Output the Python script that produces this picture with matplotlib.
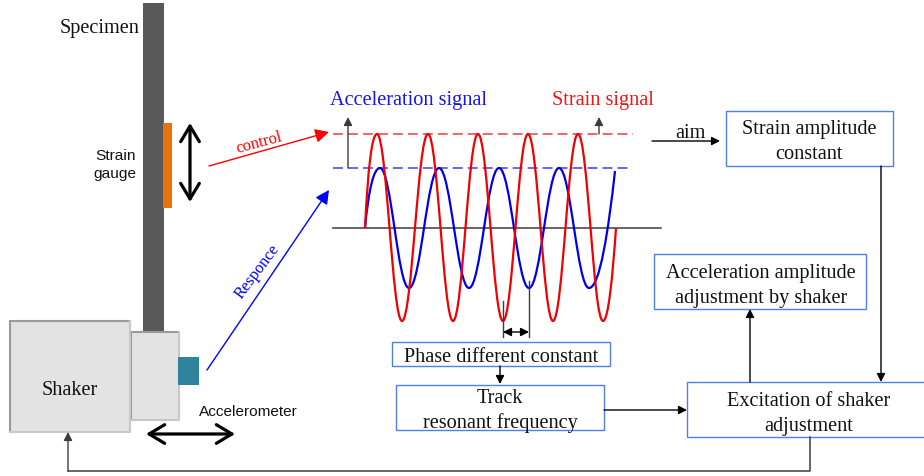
import matplotlib
matplotlib.use("Agg")
import matplotlib.pyplot as plt
from matplotlib.patches import Rectangle, PathPatch
from matplotlib.path import Path

# picture coordinates (pixels, y downwards)
zero_y = 229
strain_peak_y = 135
strain_trough_y = 322
accel_peak_y = 169
accel_trough_y = 289

strain_peaks = [377, 428, 478, 528, 578]
strain_troughs = [402, 453, 503, 553, 603]
strain_start = (365, 229)
strain_end = (616, 229)

accel_peaks = [380, 439, 499, 559]
accel_troughs = [409, 469, 529, 589]
accel_start = (365, 229)
accel_end = (615, 172)

BOX = "#4F7FEA"
DARK = "#3c3c3c"
SERIF = "Liberation Serif"
SANS = "Liberation Sans"
FS = 14.6


def wave_patch(start, end, peaks, troughs, peak_y, trough_y, color):
    ext = sorted([(x, peak_y) for x in peaks] + [(x, trough_y) for x in troughs])
    verts = [start]
    x0, y0 = ext[0]
    verts += [(start[0] + 0.25 * (x0 - start[0]), start[1] + 0.65 * (y0 - start[1])),
              (start[0] + 0.58 * (x0 - start[0]), y0), (x0, y0)]
    for (xa, ya), (xb, yb) in zip(ext[:-1], ext[1:]):
        d = xb - xa
        verts += [(xa + 0.39 * d, ya), (xb - 0.39 * d, yb), (xb, yb)]
    xa, ya = ext[-1]
    verts += [(xa + 0.42 * (end[0] - xa), ya),
              (xa + 0.75 * (end[0] - xa), ya + 0.50 * (end[1] - ya)), end]
    codes = [Path.MOVETO] + [Path.CURVE4] * (len(verts) - 1)
    return PathPatch(Path(verts, codes), fc="none", ec=color, lw=1.6, zorder=4)


def arrow(ax, a, b, color="black", lw=1.0, ms=9):
    ax.annotate("", xy=b, xytext=a, zorder=5,
                arrowprops=dict(arrowstyle="-|>,head_length=0.55,head_width=0.28", color=color, lw=lw,
                                shrinkA=0, shrinkB=0, mutation_scale=ms))


def big_arrow(ax, a, b):
    ax.annotate("", xy=b, xytext=a, zorder=5,
                arrowprops=dict(arrowstyle="<->,head_length=0.7,head_width=0.42", color="black", lw=2.3,
                                shrinkA=0, shrinkB=0, mutation_scale=16))


def box(ax, x0, y0, x1, y1):
    ax.add_patch(Rectangle((x0, y0), x1 - x0, y1 - y0, fc="white", ec=BOX, lw=1.0, zorder=3))


def bevel(ax, x0, y0, x1, y1):
    ax.add_patch(Rectangle((x0, y0), x1 - x0, y1 - y0, fc="#E3E3E3", ec="none", zorder=2))
    ax.plot([x0, x0, x1], [y1, y0, y0], color="#9a9a9a", lw=1.5, zorder=3)
    ax.plot([x0, x1, x1], [y1, y1, y0], color="#c8c8c8", lw=1.5, zorder=3)


fig = plt.figure(figsize=(9.24, 4.77), dpi=100)
ax = fig.add_axes([0, 0, 1, 1])
ax.set_xlim(0, 924)
ax.set_ylim(477, 0)
ax.axis("off")

# specimen and shaker
ax.add_patch(Rectangle((143, 4), 21, 330, fc="#595959", ec="none", zorder=1))
ax.add_patch(Rectangle((163, 124), 9, 85, fc="#E8720C", ec="none", zorder=2))
bevel(ax, 131, 333, 179, 421)
bevel(ax, 10, 322, 130, 433)
ax.add_patch(Rectangle((178, 358), 21, 28, fc="#2E849C", ec="none", zorder=3))
big_arrow(ax, (190, 124), (190, 203))
big_arrow(ax, (146, 435), (235, 435))

ax.text(100, 28, "Specimen", family=SERIF, fontsize=FS, ha="center", va="center", color="#111111")
ax.text(115, 165, "Strain\ngauge", family=SANS, fontsize=11.1, ha="center", va="center",
        linespacing=1.4, color="#111111")
ax.text(70, 391, "Shaker", family=SERIF, fontsize=FS, ha="center", va="center", color="#111111")
ax.text(248, 412, "Accelerometer", family=SANS, fontsize=11.1, ha="center", va="center", color="#111111")

# control / response
arrow(ax, (209, 167), (329, 133), color="red", ms=15)
arrow(ax, (207, 371), (329, 191), color="blue", ms=15)
ax.text(259, 143, "control", family=SERIF, fontsize=12, color="red", rotation=15,
        ha="center", va="center")
ax.text(257, 272, "Responce", family=SERIF, fontsize=11.8, color="blue", rotation=53,
        ha="center", va="center")

# signals
ax.plot([333, 633], [strain_peak_y, strain_peak_y], color="#F03C3C", lw=1.1, dashes=(6.5, 3.3), zorder=3)
ax.plot([333, 632], [accel_peak_y, accel_peak_y], color="#3C3CF0", lw=1.1, dashes=(6.5, 3.3), zorder=3)
ax.plot([333, 661], [zero_y, zero_y], color=DARK, lw=1.1, zorder=3)
ax.add_patch(wave_patch(accel_start, accel_end, accel_peaks, accel_troughs,
                        accel_peak_y, accel_trough_y, "#0000E6"))
ax.add_patch(wave_patch(strain_start, strain_end, strain_peaks, strain_troughs,
                        strain_peak_y, strain_trough_y, "#F00000"))
arrow(ax, (348, 169), (348, 118), color=DARK)
arrow(ax, (599, 135), (599, 118), color=DARK)
ax.plot([503, 503], [302, 338], color=DARK, lw=1.0, zorder=5)
ax.plot([529, 529], [282, 338], color=DARK, lw=1.0, zorder=5)
ax.annotate("", xy=(529, 333), xytext=(503, 333), zorder=5,
            arrowprops=dict(arrowstyle="<|-|>,head_length=0.55,head_width=0.28", color="black", lw=1.0,
                            shrinkA=0, shrinkB=0, mutation_scale=9))
ax.text(408, 101, "Acceleration signal", family=SERIF, fontsize=FS, color="#1414F0", ha="center", va="center")
ax.text(603, 101, "Strain signal", family=SERIF, fontsize=FS, color="#F01414", ha="center", va="center")

# boxes
box(ax, 726, 112, 893, 167)
box(ax, 654, 255, 866, 310)
box(ax, 392, 343, 610, 367)
box(ax, 396, 386, 604, 431)
box(ax, 687, 383, 930, 438)
for x, y, s in [(809, 142, "Strain amplitude\nconstant"),
                (761, 286, "Acceleration amplitude\nadjustment by shaker"),
                (501, 358, "Phase different constant"),
                (500, 411, "Track\nresonant frequency"),
                (809, 414, "Excitation of shaker\nadjustment")]:
    ax.text(x, y, s, family=SERIF, fontsize=FS, ha="center", va="center", linespacing=1.36,
            color="#111111", zorder=6)
ax.text(690, 134, "aim", family=SERIF, fontsize=FS, ha="center", va="center", color="#111111")

# flow arrows
arrow(ax, (652, 142), (720, 142))
arrow(ax, (500, 367), (500, 385))
arrow(ax, (604, 411), (687, 411))
arrow(ax, (881, 167), (881, 383))
arrow(ax, (750, 383), (750, 310))
ax.plot([810, 810, 68], [438, 472, 472], color=DARK, lw=1.1, zorder=3)
arrow(ax, (68, 472), (68, 433), color=DARK)

fig.savefig("out.png", dpi=100)
